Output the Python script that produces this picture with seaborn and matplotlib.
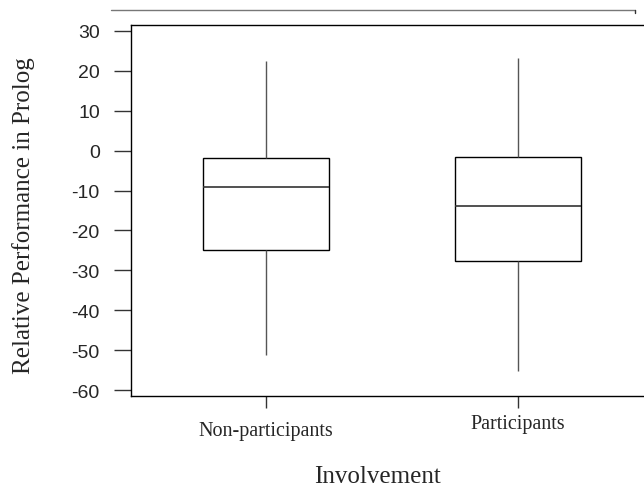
import numpy as np
import pandas as pd
import matplotlib
matplotlib.use("Agg")
import matplotlib.pyplot as plt
import matplotlib.transforms as mtransforms
from matplotlib.lines import Line2D
import seaborn as sns

# Five-number summaries: min, Q1, median, Q3, max
categories = ["Non-participants", "Participants"]
non_participants = [-51.1, -24.8, -9.0, -1.9, 22.5]
participants = [-55.1, -27.6, -13.9, -1.5, 23.3]
y_ticks = [30, 20, 10, 0, -10, -20, -30, -40, -50, -60]

df = pd.DataFrame({
    "Involvement": [categories[0]] * len(non_participants) + [categories[1]] * len(participants),
    "Performance": non_participants + participants,
})

sns.set_style("white")
fig = plt.figure(figsize=(6.44, 4.89), dpi=100)
ax = fig.add_axes([131 / 644, 92 / 489, 522 / 644, 371.5 / 489])

sns.boxplot(
    data=df, x="Involvement", y="Performance", order=categories, ax=ax,
    whis=np.inf, width=0.5, color="white", linecolor="black", linewidth=1.0,
    showcaps=False, fliersize=0,
    whiskerprops=dict(color="#555555", linewidth=1.0),
    medianprops=dict(color="#333333", linewidth=1.2),
)

ax.set_xlim(-0.536, 1.536)
ax.set_ylim(-61.45, 31.58)
ax.set_yticks(y_ticks)
ax.set_yticklabels([str(t) for t in y_ticks], fontfamily="Liberation Sans", fontsize=14)

for side in ["left", "bottom", "top", "right"]:
    ax.spines[side].set_visible(True)
    ax.spines[side].set_color("black")
    ax.spines[side].set_linewidth(1.0)

ax.tick_params(axis="y", direction="out", length=12.5, width=1, color="#333333", pad=10, left=True)
ax.tick_params(axis="x", direction="out", length=8.5, width=1, color="#333333", pad=9.5, bottom=True)

for lab in ax.get_xticklabels():
    lab.set_fontfamily("Liberation Serif")
    lab.set_fontsize(14.5)

ax.set_xlabel("Involvement", fontfamily="Liberation Serif", fontsize=18)
ax.set_ylabel("Relative Performance in Prolog", fontfamily="Liberation Serif", fontsize=18)
ax.xaxis.set_label_coords(0.473, -0.186)
ax.yaxis.set_label_coords(-0.183, 0.487)

# second label sits slightly higher in the reference
labs = ax.get_xticklabels()
off = mtransforms.ScaledTranslation(0, 7 / 100, fig.dpi_scale_trans)
labs[1].set_transform(labs[1].get_transform() + off)

# stray line at the top of the reference image
fig.add_artist(Line2D([111 / 644, 635 / 644], [1 - 11 / 489] * 2, color="#777777", linewidth=1.0))
fig.add_artist(Line2D([635 / 644, 635 / 644], [1 - 11 / 489, 1 - 14 / 489], color="#333333", linewidth=1.0))

fig.savefig("out.png", dpi=100)
